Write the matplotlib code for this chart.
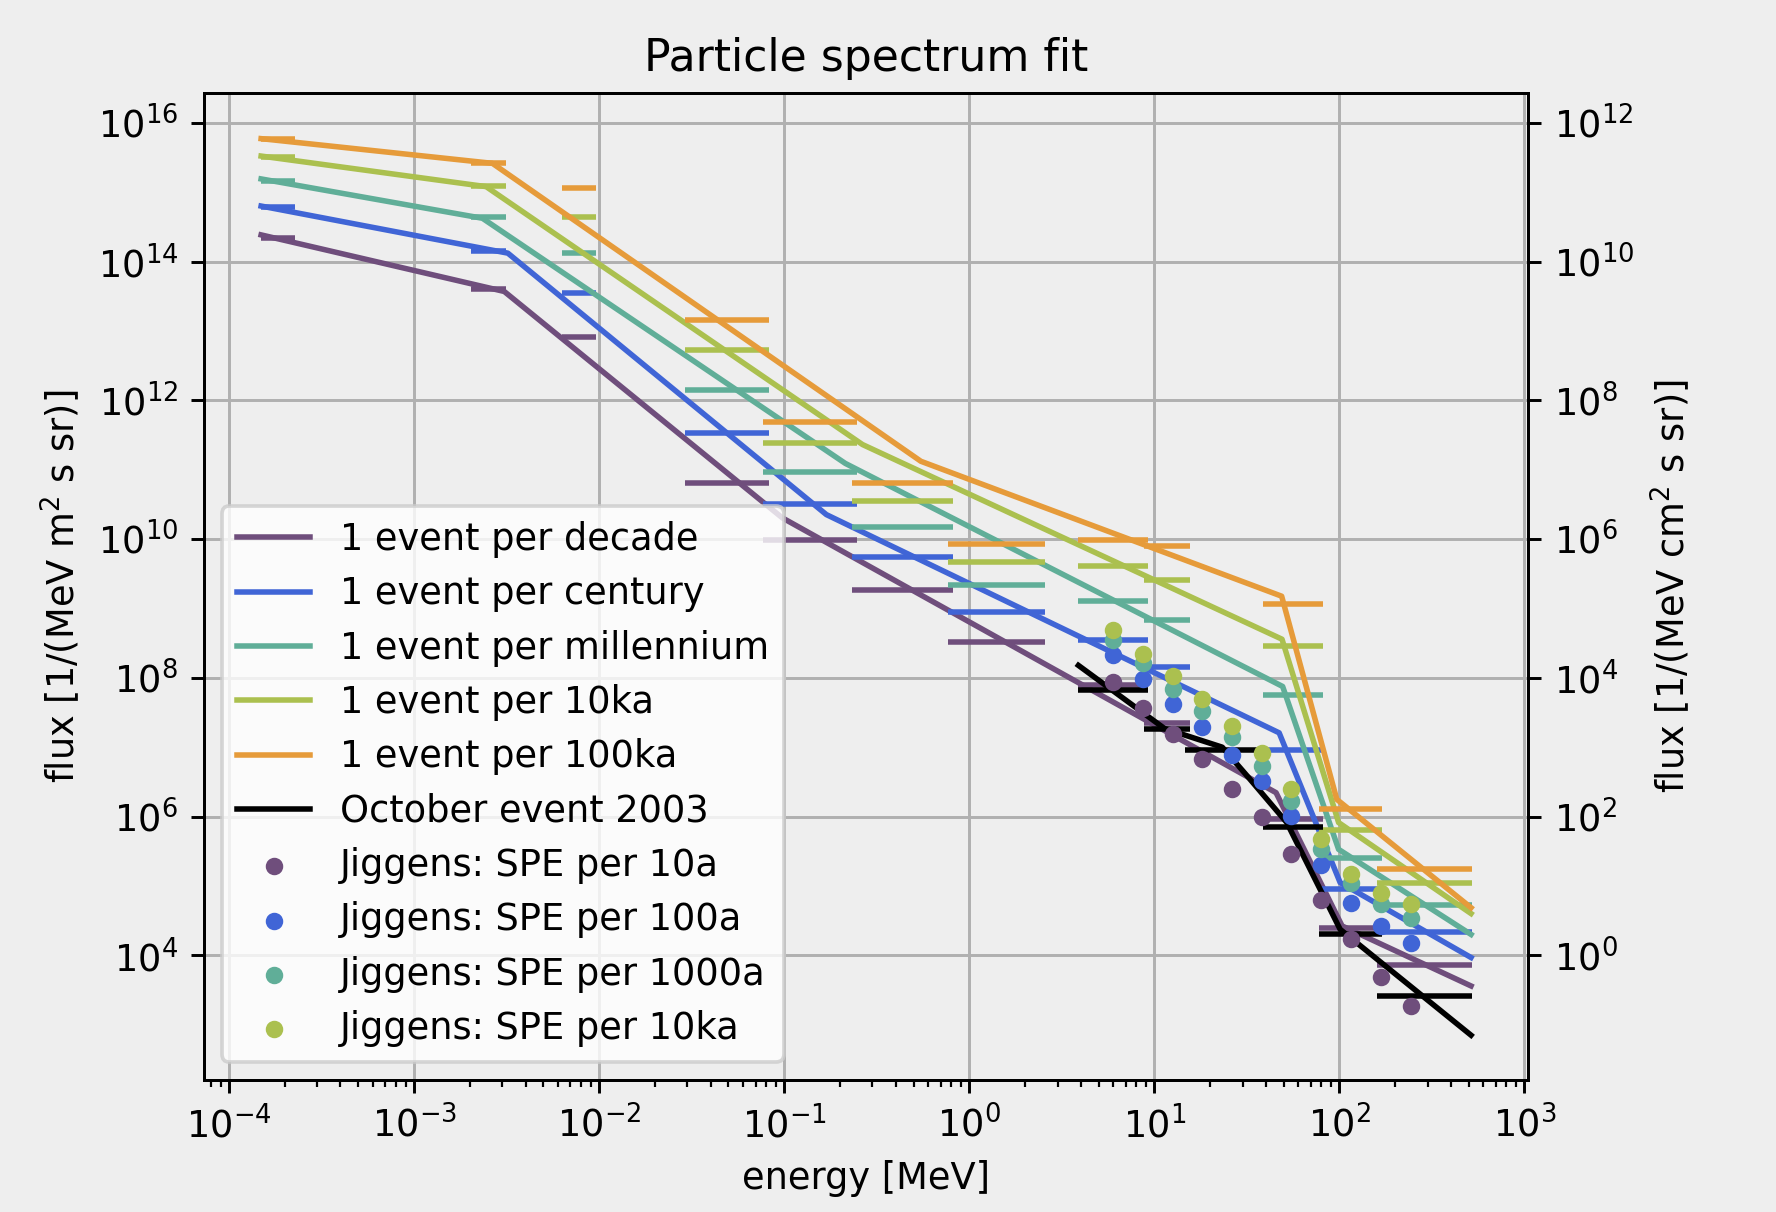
import numpy as np
import matplotlib
matplotlib.use('Agg')
import matplotlib.pyplot as plt
from matplotlib.ticker import NullLocator


# energy bins of the fitted spectra [MeV]
bin_lo = [1.49e-4, 2.04e-3, 6.27e-3, 0.0291, 0.077, 0.232, 0.769, 3.89, 8.75, 38.9, 77.6, 160]
bin_hi = [2.28e-4, 3.14e-3, 9.67e-3, 0.083, 0.247, 0.822, 2.58, 9.27, 15.5, 82.0, 171, 522]

# bin fluxes [1/(MeV m^2 s sr)]
bins_decade = [2.21e14, 4.0e13, 8.24e12, 6.46e10, 9.53e9, 1.82e9, 3.27e8, 7.76e7, 2.25e7, 9.31e5, 2.45e4, 7.19e3]
bins_century = [6.03e14, 1.44e14, 3.5e13, 3.39e11, 3.25e10, 5.55e9, 8.95e8, 3.46e8, 1.43e8, 8.97e6, 9.14e4, 2.17e4]
bins_millennium = [1.45e15, 4.44e14, 1.32e14, 1.42e12, 9.4e10, 1.47e10, 2.17e9, 1.27e9, 6.78e8, 5.62e7, 2.56e5, 5.32e4]
bins_10ka = [3.16e15, 1.23e15, 4.44e14, 5.25e12, 2.43e11, 3.48e10, 4.74e9, 4.06e9, 2.61e9, 2.86e8, 6.32e5, 1.12e5]
bins_100ka = [5.75e15, 2.6e15, 1.135e15, 1.42e13, 4.93e11, 6.44e10, 8.53e9, 9.84e9, 7.89e9, 1.17e9, 1.27e6, 1.77e5]

# fitted broken power laws
fit_E_decade = [1.49e-4, 3.07e-3, 0.0977, 45.5, 103.5, 515]
fit_F_decade = [2.42e14, 3.7e13, 2.02e10, 2.21e6, 2.65e4, 3.62e3]
fit_E_century = [1.49e-4, 3.21e-3, 0.169, 47.3, 101, 515]
fit_F_century = [6.3e14, 1.32e14, 2.25e10, 1.61e7, 1.12e5, 9.3e3]
fit_E_millennium = [1.49e-4, 2.34e-3, 0.214, 49.4, 99.1, 515]
fit_F_millennium = [1.55e15, 4.2e14, 1.23e11, 7.5e7, 3.37e5, 2.0e4]
fit_E_10ka = [1.49e-4, 2.45e-3, 0.265, 49.0, 99.1, 515]
fit_F_10ka = [3.31e15, 1.2e15, 2.3e11, 3.6e8, 8.2e5, 4.0e4]
fit_E_100ka = [1.49e-4, 2.65e-3, 0.548, 48.8, 96.9, 515]
fit_F_100ka = [5.9e15, 2.6e15, 1.32e11, 1.5e9, 1.77e6, 4.86e4]

# October 2003 event
oct_lo = [3.89, 8.75, 14.6, 38.9, 77.6, 160]
oct_hi = [9.27, 15.5, 41.2, 82.0, 171, 522]
oct_bins = [6.64e7, 1.8e7, 8.98e6, 7.06e5, 2.0e4, 2.6e3]
oct_E = [3.89, 11.35, 23.3, 31.8, 52.0, 101, 515]
oct_F = [1.51e8, 1.86e7, 1.0e7, 3.84e6, 8.2e5, 2.37e4, 706]

# Jiggens SPE spectra
jig_E = [6.0, 8.67, 12.6, 18.2, 26.4, 38.0, 55.1, 80.0, 116, 167, 243]
jig_10a = [8.7e7, 3.7e7, 1.53e7, 6.67e6, 2.52e6, 9.95e5, 2.86e5, 6.28e4, 1.7e4, 4.94e3, 1.87e3]
jig_100a = [2.14e8, 9.77e7, 4.23e7, 1.95e7, 7.69e6, 3.25e6, 1.02e6, 1.98e5, 5.62e4, 2.65e4, 1.49e4]
jig_1000a = [3.55e8, 1.64e8, 7.0e7, 3.31e7, 1.41e7, 5.35e6, 1.67e6, 3.37e5, 1.12e5, 5.43e4, 3.49e4]
jig_10ka = [4.9e8, 2.24e8, 1.05e8, 4.88e7, 2.01e7, 8.3e6, 2.47e6, 4.8e5, 1.47e5, 8.0e4, 5.43e4]


cores = ['#6f4e7c', '#4065d6', '#60ae98', '#abc04f', '#e69b3a']
rotulos = ['1 event per decade', '1 event per century', '1 event per millennium',
           '1 event per 10ka', '1 event per 100ka']
fits = [(fit_E_decade, fit_F_decade), (fit_E_century, fit_F_century),
        (fit_E_millennium, fit_F_millennium), (fit_E_10ka, fit_F_10ka),
        (fit_E_100ka, fit_F_100ka)]
bins = [bins_decade, bins_century, bins_millennium, bins_10ka, bins_100ka]

fundo = '#eeeeee'
fig = plt.figure(figsize=(1776 / 265, 1212 / 265), dpi=265, facecolor=fundo)
ax = fig.add_axes([0.1147, 0.1089, 0.8604 - 0.1147, 0.923 - 0.1089])
ax.set_facecolor(fundo)

for (E, F), b, c, r in zip(fits, bins, cores, rotulos):
    ax.plot(E, F, color=c, lw=1.5, label=r)
    ax.hlines(b, bin_lo, bin_hi, color=c, lw=1.5)

ax.plot(oct_E, oct_F, color='black', lw=1.5, label='October event 2003')
ax.hlines(oct_bins, oct_lo, oct_hi, color='black', lw=1.5)

jig = [(jig_10a, 'Jiggens: SPE per 10a'), (jig_100a, 'Jiggens: SPE per 100a'),
       (jig_1000a, 'Jiggens: SPE per 1000a'), (jig_10ka, 'Jiggens: SPE per 10ka')]
for (F, r), c in zip(jig, cores):
    ax.scatter(jig_E, F, s=14, color=c, label=r, zorder=3)

ax.set_xscale('log')
ax.set_yscale('log')
ax.set_xlim(10 ** -4.137, 10 ** 3.02)
ylim = (10 ** 2.203, 10 ** 16.424)
ax.set_ylim(ylim)
ax.yaxis.set_minor_locator(NullLocator())
ax.grid(True, color='#b0b0b0', lw=0.8)
ax.set_axisbelow(True)

ax.set_title('Particle spectrum fit', fontsize=12)
ax.set_xlabel('energy [MeV]')
ax.set_ylabel('flux [1/(MeV m$^2$ s sr)]')
ax.legend(loc='lower left', fontsize=10, labelspacing=0.47)

# same data in per cm^2 units
ax2 = ax.twinx()
ax2.set_yscale('log')
ax2.set_ylim(ylim[0] / 1e4, ylim[1] / 1e4)
ax2.yaxis.set_minor_locator(NullLocator())
ax2.set_ylabel('flux [1/(MeV cm$^2$ s sr)]')

fig.savefig('out.png', dpi=265, facecolor=fundo)
